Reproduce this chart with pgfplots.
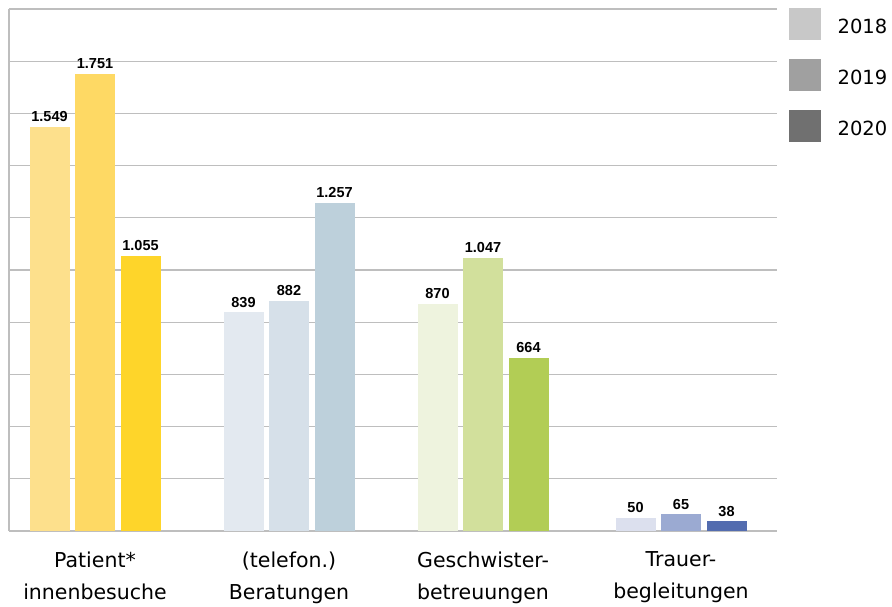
\documentclass[border=0pt]{standalone}
\usepackage{pgfplots}
\pgfplotsset{compat=1.18}
\usepackage{fontspec}
\setmainfont{DejaVu Sans}
\newfontfamily\valfont{Liberation Sans}

% group colours: one shade per year
\definecolor{yA}{RGB}{253,224,140}
\definecolor{yB}{RGB}{254,217,100}
\definecolor{yC}{RGB}{254,213,42}
\definecolor{bA}{RGB}{227,233,240}
\definecolor{bB}{RGB}{214,224,233}
\definecolor{bC}{RGB}{189,208,219}
\definecolor{gA}{RGB}{238,243,222}
\definecolor{gB}{RGB}{210,224,156}
\definecolor{gC}{RGB}{178,205,85}
\definecolor{vA}{RGB}{220,224,238}
\definecolor{vB}{RGB}{155,170,210}
\definecolor{vC}{RGB}{83,108,175}
\definecolor{lgA}{RGB}{200,200,200}
\definecolor{lgB}{RGB}{160,160,160}
\definecolor{lgC}{RGB}{112,112,112}
\definecolor{gridgray}{RGB}{190,190,190}

\begin{document}
\begin{tikzpicture}
\useasboundingbox (-9bp,-76bp) rectangle (883bp,531bp);
\begin{axis}[
  scale only axis,
  width=768bp, height=522bp,
  xmin=0, xmax=768,
  ymin=0, ymax=2000,
  axis lines*=left,
  axis line style={draw=gridgray, line width=1.2bp},
  ytick={0,200,...,2000},
  yticklabels={},
  ymajorgrids,
  grid style={draw=gridgray, line width=1.2bp},
  major tick length=0pt,
  xtick={86,280,474,672},
  xticklabels={Patient*\\innenbesuche, (telefon.)\\Beratungen, Geschwister-\\betreuungen, Trauer-\\begleitungen},
  xticklabel style={align=center, font=\fontsize{20.5bp}{32bp}\selectfont, yshift=-17bp},
  ybar, bar width=40bp,
  /pgf/number format/assume math mode=true,
  nodes near coords={\valfont\bfseries\pgfmathprintnumber[1000 sep={.}]{\pgfplotspointmeta}},
  every node near coord/.append style={anchor=base, inner sep=0pt, yshift=5bp, font=\fontsize{14.5bp}{14.5bp}\selectfont},
  legend image code/.code={\fill[#1] (0bp,-15.5bp) rectangle (31bp,15.5bp);},
  legend style={draw=none, fill=none, inner sep=0pt, at={(rel axis cs:1,1)}, anchor=north west,
    xshift=12bp, yshift=1bp, row sep=19.5bp, column sep=0pt,
    nodes={inner sep=0pt, font=\fontsize{19.5bp}{19.5bp}\selectfont},
    /tikz/every odd column/.append style={column sep=17bp}},
  legend cell align=left,
]
% Patient*innenbesuche
\addplot[forget plot, fill=yA, draw=none, bar shift=-45.5bp] coordinates {(86,1549)};
\addplot[forget plot, fill=yB, draw=none, bar shift=0bp] coordinates {(86,1751)};
\addplot[forget plot, fill=yC, draw=none, bar shift=45.5bp] coordinates {(86,1055)};
% (telefon.) Beratungen
\addplot[forget plot, fill=bA, draw=none, bar shift=-45.5bp] coordinates {(280,839)};
\addplot[forget plot, fill=bB, draw=none, bar shift=0bp] coordinates {(280,882)};
\addplot[forget plot, fill=bC, draw=none, bar shift=45.5bp] coordinates {(280,1257)};
% Geschwisterbetreuungen
\addplot[forget plot, fill=gA, draw=none, bar shift=-45.5bp] coordinates {(474,870)};
\addplot[forget plot, fill=gB, draw=none, bar shift=0bp] coordinates {(474,1047)};
\addplot[forget plot, fill=gC, draw=none, bar shift=45.5bp] coordinates {(474,664)};
% Trauerbegleitungen
\addplot[forget plot, fill=vA, draw=none, bar shift=-45.5bp] coordinates {(672,50)};
\addplot[forget plot, fill=vB, draw=none, bar shift=0bp] coordinates {(672,65)};
\addplot[forget plot, fill=vC, draw=none, bar shift=45.5bp] coordinates {(672,38)};

\addlegendimage{lgA}
\addlegendentry{\raisebox{-7bp}{2018}}
\addlegendimage{lgB}
\addlegendentry{\raisebox{-7bp}{2019}}
\addlegendimage{lgC}
\addlegendentry{\raisebox{-7bp}{2020}}
\end{axis}
\end{tikzpicture}
\end{document}
